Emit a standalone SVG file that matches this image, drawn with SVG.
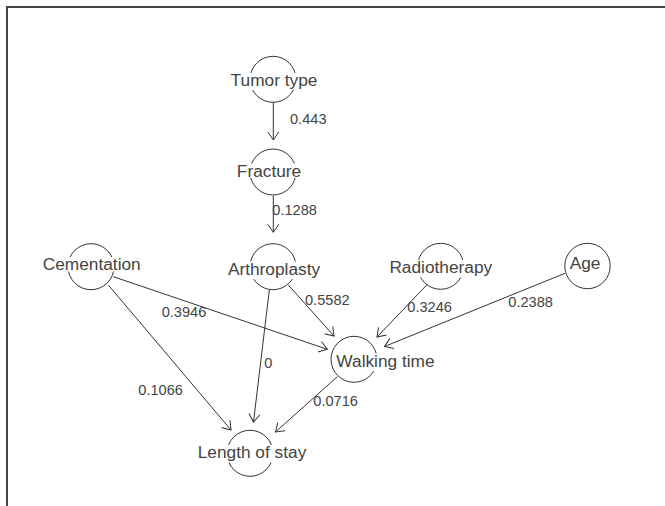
<svg xmlns="http://www.w3.org/2000/svg" width="665" height="506" viewBox="0 0 665 506">
<style>
.frame{fill:none;stroke:#444;stroke-width:2}
.nc{fill:none;stroke:#333;stroke-width:1}
.mask{fill:#fff;stroke:none}
.nl{font-family:"Liberation Sans",Arial,sans-serif;font-size:17.3px;fill:#444;text-anchor:middle}
.el{font-family:"Liberation Sans",Arial,sans-serif;font-size:14.6px;fill:#444}
.edge{fill:none;stroke:#333;stroke-width:1;marker-end:url(#arr)}
</style>
<defs>
<marker id="arr" markerUnits="userSpaceOnUse" markerWidth="20" markerHeight="20" viewBox="-10 -10 20 20" refX="0" refY="0" orient="auto" overflow="visible">
<path d="M-8,-5.5 L0,0 L-8,5.5" fill="none" stroke="#333" stroke-width="1"/>
</marker>
</defs>
<rect width="665" height="506" fill="#fff"/>
<path class="frame" d="M7,506 L7,7 L665,7"/>
<g id="node-tumor-type">
<circle class="nc" cx="273" cy="79.3" r="23"/>
<rect class="mask" x="230" y="73" width="88" height="17"/>
<text class="nl" x="274" y="86">Tumor type</text>
</g>
<g id="node-fracture">
<circle class="nc" cx="273" cy="172" r="23"/>
<rect class="mask" x="237" y="163.5" width="64" height="14.5"/>
<text class="nl" x="269" y="176.7">Fracture</text>
</g>
<g id="node-cementation">
<circle class="nc" cx="91" cy="266.7" r="23"/>
<rect class="mask" x="42" y="257" width="99" height="14.5"/>
<text class="nl" x="91.7" y="270">Cementation</text>
</g>
<g id="node-arthroplasty">
<circle class="nc" cx="273" cy="266.7" r="23"/>
<rect class="mask" x="226" y="261.5" width="96" height="17.5"/>
<text class="nl" x="274" y="274.5">Arthroplasty</text>
</g>
<g id="node-radiotherapy">
<circle class="nc" cx="440.7" cy="266.3" r="23"/>
<rect class="mask" x="388.5" y="260" width="104.5" height="17.5"/>
<text class="nl" x="440.8" y="273.3">Radiotherapy</text>
</g>
<g id="node-age">
<circle class="nc" cx="587.5" cy="266" r="22.7"/>
<rect class="mask" x="569.5" y="256.5" width="31" height="17"/>
<text class="nl" x="585" y="269.3">Age</text>
</g>
<g id="node-walking-time">
<circle class="nc" cx="354" cy="359.3" r="23"/>
<rect class="mask" x="335.5" y="353.5" width="100" height="17.5"/>
<text class="nl" x="385.5" y="366.7">Walking time</text>
</g>
<g id="node-length-of-stay">
<circle class="nc" cx="250" cy="453.3" r="23"/>
<rect class="mask" x="197" y="445" width="110" height="17.5"/>
<text class="nl" x="252" y="458.3">Length of stay</text>
</g>
<g id="edges">
<line class="edge" x1="273.3" y1="102.7" x2="273.3" y2="140"/>
<line class="edge" x1="273.3" y1="195.7" x2="273.3" y2="232.3"/>
<line class="edge" x1="113.3" y1="276.7" x2="327.3" y2="349.3"/>
<line class="edge" x1="108.3" y1="285" x2="231" y2="430"/>
<line class="edge" x1="269.3" y1="290" x2="253.5" y2="422"/>
<line class="edge" x1="288.3" y1="285" x2="334" y2="336"/>
<line class="edge" x1="426.7" y1="285" x2="377" y2="337"/>
<line class="edge" x1="565" y1="273.3" x2="384.5" y2="346.5"/>
<line class="edge" x1="337.3" y1="376.7" x2="275.5" y2="432"/>
</g>
<g id="edge-labels">
<text class="el" x="290" y="124">0.443</text>
<text class="el" x="272.3" y="215">0.1288</text>
<text class="el" x="161.7" y="317.3">0.3946</text>
<text class="el" x="138.3" y="395">0.1066</text>
<text class="el" x="264.3" y="368.3">0</text>
<text class="el" x="305" y="305">0.5582</text>
<text class="el" x="407.3" y="311.7">0.3246</text>
<text class="el" x="508.3" y="306.7">0.2388</text>
<text class="el" x="313.3" y="405.7">0.0716</text>
</g>
</svg>
